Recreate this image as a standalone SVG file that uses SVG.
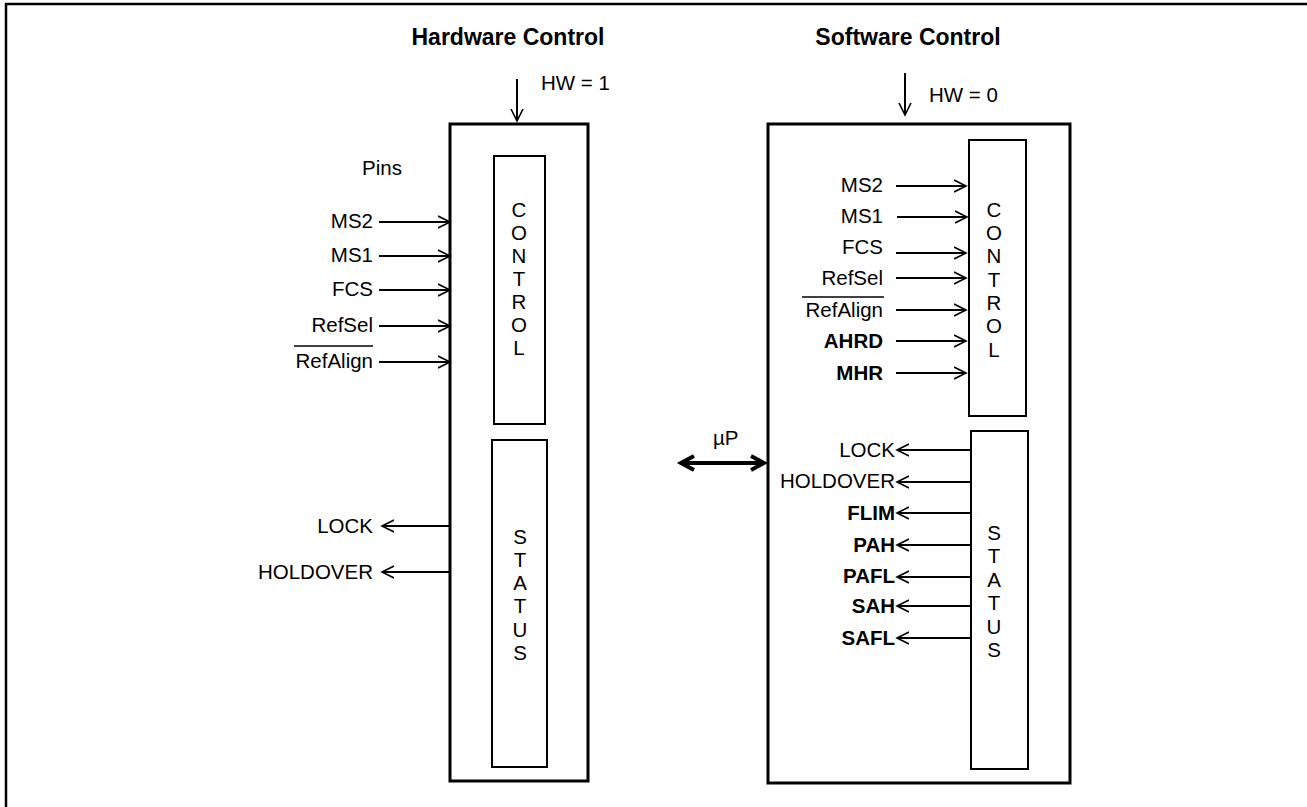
<svg xmlns="http://www.w3.org/2000/svg" width="1307" height="807" viewBox="0 0 1307 807">
<defs>
<marker id="ah" markerWidth="14" markerHeight="14" refX="12" refY="6" orient="auto" markerUnits="userSpaceOnUse" viewBox="0 0 14 12">
<path d="M0,0 L12,6 L0,12" fill="none" stroke="#000" stroke-width="1.6"/>
</marker>
<marker id="ahb" markerWidth="20" markerHeight="20" refX="14" refY="8" orient="auto-start-reverse" markerUnits="userSpaceOnUse" viewBox="0 0 20 16">
<path d="M1,1 L14,8 L1,15" fill="none" stroke="#000" stroke-width="4"/>
</marker>
</defs>
<style>
text{font-family:"Liberation Sans",Arial,sans-serif;font-size:20.5px;fill:#000}
.b{font-weight:bold}
.t{font-weight:bold;font-size:23px}
.e{text-anchor:end}
.m{text-anchor:middle}
.outer{fill:none;stroke:#000;stroke-width:3}
.inner{fill:none;stroke:#000;stroke-width:2}
.ln{stroke:#000;stroke-width:2;fill:none;marker-end:url(#ah)}
.ov{stroke:#000;stroke-width:1.6}
</style>
<rect width="1307" height="807" fill="#fff"/>
<path d="M6,807 V4 H1307" fill="none" stroke="#000" stroke-width="2.5"/>

<text class="t m" x="508" y="45">Hardware Control</text>
<text class="t m" x="908" y="45">Software Control</text>

<g id="hw-block">
<rect class="outer" x="450" y="124" width="138" height="657"/>
<text x="541" y="90">HW = 1</text>
<text x="362" y="175">Pins</text>
</g>
<g id="hw-control">
<rect class="inner" x="494" y="156" width="51" height="268"/>
<text class="m" x="519" y="217">C</text>
<text class="m" x="519" y="240">O</text>
<text class="m" x="519" y="263">N</text>
<text class="m" x="519" y="286">T</text>
<text class="m" x="519" y="309">R</text>
<text class="m" x="519" y="332">O</text>
<text class="m" x="519" y="355">L</text>
</g>
<g id="hw-status">
<rect class="inner" x="492" y="440" width="55" height="327"/>
<text class="m" x="520" y="544">S</text>
<text class="m" x="520" y="567">T</text>
<text class="m" x="520" y="590">A</text>
<text class="m" x="520" y="613">T</text>
<text class="m" x="520" y="637">U</text>
<text class="m" x="520" y="660">S</text>
</g>
<g id="hw-labels">
<text class="e" x="373" y="228">MS2</text>
<text class="e" x="373" y="262">MS1</text>
<text class="e" x="373" y="296">FCS</text>
<text class="e" x="373" y="332">RefSel</text>
<text class="e" x="373" y="368">RefAlign</text>
<line class="ov" x1="294" y1="346" x2="373" y2="346"/>
<text class="e" x="373" y="533">LOCK</text>
<text class="e" x="373" y="579">HOLDOVER</text>
</g>

<g id="sw-block">
<rect class="outer" x="768" y="124" width="302" height="659"/>
<text x="929" y="102">HW = 0</text>
<text x="713" y="445">µP</text>
</g>
<g id="sw-control">
<rect class="inner" x="969" y="140" width="57" height="276"/>
<text class="m" x="994" y="217">C</text>
<text class="m" x="994" y="240">O</text>
<text class="m" x="994" y="263">N</text>
<text class="m" x="994" y="287">T</text>
<text class="m" x="994" y="310">R</text>
<text class="m" x="994" y="333">O</text>
<text class="m" x="994" y="357">L</text>
</g>
<g id="sw-status">
<rect class="inner" x="971" y="431" width="57" height="338"/>
<text class="m" x="994" y="540">S</text>
<text class="m" x="994" y="563">T</text>
<text class="m" x="994" y="587">A</text>
<text class="m" x="994" y="610">T</text>
<text class="m" x="994" y="634">U</text>
<text class="m" x="994" y="657">S</text>
</g>
<g id="sw-labels">
<text class="e" x="883" y="192">MS2</text>
<text class="e" x="883" y="223">MS1</text>
<text class="e" x="883" y="254">FCS</text>
<text class="e" x="883" y="285">RefSel</text>
<text class="e" x="883" y="317">RefAlign</text>
<line class="ov" x1="802" y1="297" x2="884" y2="297"/>
<text class="e b" x="883" y="348">AHRD</text>
<text class="e b" x="883" y="380">MHR</text>
<text class="e" x="895" y="457">LOCK</text>
<text class="e" x="895" y="488">HOLDOVER</text>
<text class="e b" x="895" y="520">FLIM</text>
<text class="e b" x="895" y="552">PAH</text>
<text class="e b" x="895" y="583">PAFL</text>
<text class="e b" x="895" y="613">SAH</text>
<text class="e b" x="895" y="645">SAFL</text>
</g>

<g id="connectors">
<line class="ln" x1="517" y1="79" x2="517" y2="121"/>
<line class="ln" x1="905" y1="73" x2="905" y2="115"/>
<line class="ln" x1="379" y1="222" x2="450" y2="222"/>
<line class="ln" x1="379" y1="256" x2="450" y2="256"/>
<line class="ln" x1="379" y1="290" x2="450" y2="290"/>
<line class="ln" x1="379" y1="326" x2="450" y2="326"/>
<line class="ln" x1="379" y1="362" x2="450" y2="362"/>
<line class="ln" x1="450" y1="526" x2="382" y2="526"/>
<line class="ln" x1="450" y1="572" x2="382" y2="572"/>
<line class="ln" x1="896" y1="186" x2="966" y2="186"/>
<line class="ln" x1="897" y1="217" x2="967" y2="217"/>
<line class="ln" x1="896" y1="253" x2="966" y2="253"/>
<line class="ln" x1="896" y1="278" x2="966" y2="278"/>
<line class="ln" x1="896" y1="310" x2="966" y2="310"/>
<line class="ln" x1="896" y1="341" x2="966" y2="341"/>
<line class="ln" x1="896" y1="373" x2="966" y2="373"/>
<line class="ln" x1="971" y1="450" x2="897" y2="450"/>
<line class="ln" x1="971" y1="482" x2="897" y2="482"/>
<line class="ln" x1="971" y1="513" x2="897" y2="513"/>
<line class="ln" x1="971" y1="545" x2="897" y2="545"/>
<line class="ln" x1="971" y1="577" x2="897" y2="577"/>
<line class="ln" x1="971" y1="606" x2="897" y2="606"/>
<line class="ln" x1="971" y1="638" x2="897" y2="638"/>
<line x1="681" y1="463" x2="764" y2="463" stroke="#000" stroke-width="4" marker-start="url(#ahb)" marker-end="url(#ahb)"/>
</g>
</svg>
